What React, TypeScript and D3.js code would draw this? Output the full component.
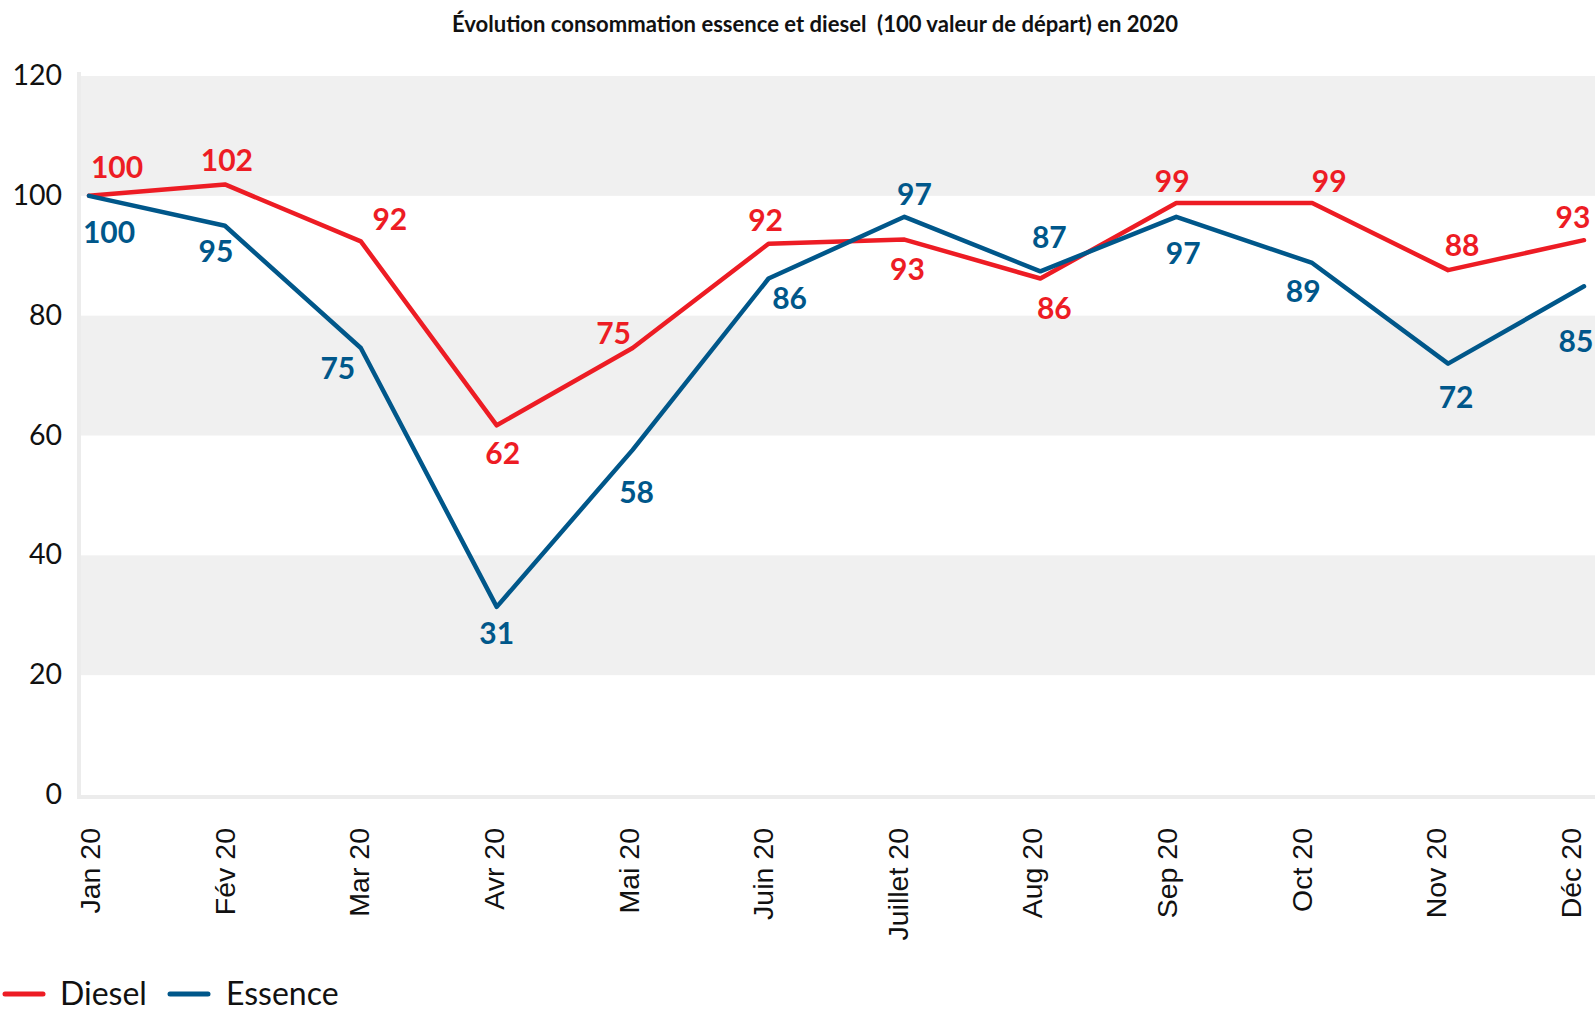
import React from "react";
import * as d3 from "d3";

// data
const months = ["Jan 20", "Fév 20", "Mar 20", "Avr 20", "Mai 20", "Juin 20", "Juillet 20", "Aug 20", "Sep 20", "Oct 20", "Nov 20", "Déc 20"];
const diesel = [100, 101.9, 92.4, 61.7, 74.6, 92.0, 92.7, 86.2, 98.8, 98.8, 87.6, 92.6];
const essence = [100, 95.0, 74.6, 31.4, 57.6, 86.2, 96.5, 87.4, 96.5, 88.8, 72.0, 84.9];
const yTicks = [0, 20, 40, 60, 80, 100, 120];

// where each data label sits relative to its point (dx, dy)
const dieselLabelOffsets = [[28, -28], [2, -24], [29, -22], [6, 28], [-19, -15], [-3, -23], [3, 30], [14, 30], [-4, -22], [17, -22], [14, -25], [-11, -23]];
const essenceLabelOffsets = [[20, 37], [-9, 26], [-23, 20], [0, 27], [4, 43], [21, 20], [10, -22], [9, -34], [7, 37], [-9, 29], [8, 34], [-8, 55]];

const W = 1595;
const H = 1011;
const RED = "#ed1c24";
const BLUE = "#00578a";
const BAND = "#f0f0f0";

export default function App() {
  const x = d3.scalePoint<string>().domain(months).range([89, 1584]);
  const xLabel = d3.scalePoint<string>().domain(months).range([90, 1571]);
  const y = d3.scaleLinear().domain([0, 120]).range([795, 76]);

  const line = d3
    .line<number>()
    .x((d, i) => x(months[i]) as number)
    .y((d) => y(d));

  const series = [
    { name: "Diesel", values: diesel, color: RED, offsets: dieselLabelOffsets },
    { name: "Essence", values: essence, color: BLUE, offsets: essenceLabelOffsets },
  ];

  // gray bands: 120-100, 80-60, 40-20
  const bands = yTicks.filter((t) => t < 120 && ((120 - t - 20) / 20) % 2 === 0);

  return (
    <div style={{ position: "fixed", left: 0, top: 0 }}>
      <svg width={W} height={H} style={{ display: "block", background: "#fff" }}>
        <text
          x={815}
          y={32}
          textAnchor="middle"
          fontFamily="Lato"
          fontWeight={700}
          fontSize={22}
          textLength={726}
          lengthAdjust="spacingAndGlyphs"
          fill="#111"
          style={{ whiteSpace: "pre" }}
        >
          {"Évolution consommation essence et diesel  (100 valeur de départ) en 2020"}
        </text>

        {bands.map((t) => (
          <rect key={t} x={81} y={y(t + 20)} width={W - 81} height={y(t) - y(t + 20)} fill={BAND} />
        ))}
        {/* axis lines */}
        <rect x={77} y={72} width={4} height={y(0) - 72 + 4} fill="#ececec" />
        <rect x={81} y={y(0)} width={W - 81} height={4} fill="#ececec" />

        {yTicks.map((t) => (
          <text key={t} x={62} y={y(t) + 9} textAnchor="end" fontFamily="Lato" fontSize={28.5} fill="#111">
            {t}
          </text>
        ))}

        {months.map((m) => (
          <text
            key={m}
            transform={`translate(${xLabel(m)},828) rotate(-90)`}
            textAnchor="end"
            dominantBaseline="central"
            fontFamily="Liberation Sans"
            fontSize={28.5}
            fill="#111"
          >
            {m}
          </text>
        ))}

        {series.map((s) => (
          <path
            key={s.name}
            d={line(s.values) || ""}
            fill="none"
            stroke={s.color}
            strokeWidth={4.5}
            strokeLinejoin="round"
            strokeLinecap="round"
          />
        ))}

        {series.map((s) =>
          s.values.map((v, i) => (
            <text
              key={s.name + i}
              x={(x(months[i]) as number) + s.offsets[i][0]}
              y={y(v) + s.offsets[i][1] + 10.5}
              textAnchor="middle"
              fontFamily="Lato"
              fontWeight={700}
              fontSize={30}
              fill={s.color}
            >
              {Math.round(v)}
            </text>
          ))
        )}

        {/* legend */}
        <g>
          <line x1={5} x2={43} y1={994} y2={994} stroke={RED} strokeWidth={5} strokeLinecap="round" />
          <text x={60} y={1005} fontFamily="Lato" fontSize={32} fill="#111">Diesel</text>
          <line x1={170} x2={208} y1={994} y2={994} stroke={BLUE} strokeWidth={5} strokeLinecap="round" />
          <text x={226} y={1005} fontFamily="Lato" fontSize={32} fill="#111">Essence</text>
        </g>
      </svg>
    </div>
  );
}
